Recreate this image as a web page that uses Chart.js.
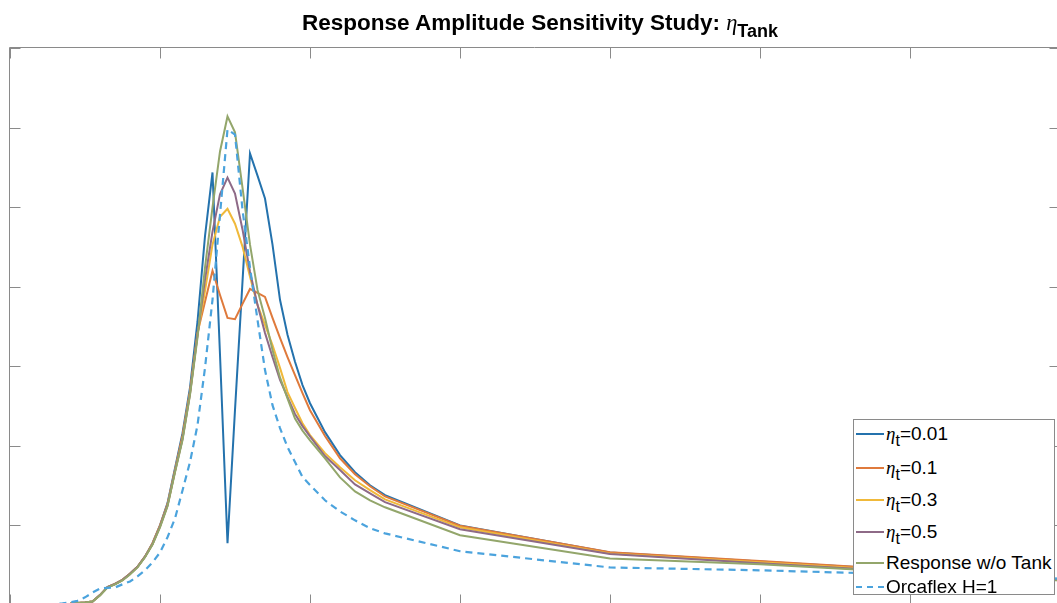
<!DOCTYPE html>
<html>
<head>
<meta charset="utf-8">
<script src="https://cdn.jsdelivr.net/npm/chart.js@4.4.1/dist/chart.umd.min.js"></script>
<style>
  html, body { margin: 0; padding: 0; background: #fff; overflow: hidden; width: 1057px; height: 603px; }
  #wrap { position: absolute; left: 0; top: 0; width: 1070px; height: 620px; }
  #title { position: absolute; left: 5px; top: 10px; width: 1070px; text-align: center;
           font-family: "Liberation Sans", Arial, sans-serif; font-size: 22.5px; line-height: 26px; color: #000; }
  #title b { font-weight: bold; }
  .eta { font-family: "Liberation Serif", "DejaVu Serif", serif; font-style: italic; }
  #title sub { font-weight: bold; font-size: 18px; vertical-align: -7px; line-height: 0; }
  #legend { position: absolute; left: 853px; top: 419px; width: 200px; height: 174px;
            border: 1px solid #8a8a8a; background: #fff;
            font-family: "Liberation Sans", Arial, sans-serif; font-size: 19px; color: #000; }
  .row { position: absolute; left: 0; height: 20px; line-height: 20px; white-space: nowrap; }
  .row .smp { position: absolute; left: 2px; width: 28px; height: 0; border-top: 2px solid; }
  .row .txt { position: absolute; left: 32px; top: 0; }
  .row sub { font-size: 16px; vertical-align: -6px; line-height: 0; }
</style>
</head>
<body>
<div id="wrap"><canvas id="rao" width="1070" height="620"></canvas></div>
<div id="title"><b>Response Amplitude Sensitivity Study: </b><span class="eta">η</span><sub>Tank</sub></div>
<div id="legend"></div>
<script>
// frequency points (axis tick labels are cropped out of the picture)
const freq = [0.05,0.06,0.07,0.08,0.09,0.10,0.11,0.12,0.13,0.14,0.15,0.16,0.17,0.18,0.19,0.20,
  0.21,0.22,0.23,0.24,0.25,0.26,0.27,0.28,0.29,0.30,0.31,0.32,0.33,0.34,0.35,0.36,0.37,0.38,0.39,0.40,
  0.42,0.44,0.46,0.48,0.50,0.60,0.80,1.00,1.20,1.40];

const eta001 = [0.001,0.002,0.003,0.004,0.006,0.008,0.011,0.031,0.056,0.066,0.079,0.098,0.120,0.152,
  0.194,0.250,0.320,0.430,0.540,0.683,0.890,1.159,1.359,0.786,0.194,0.613,1.016,1.419,1.349,1.277,
  1.132,0.959,0.849,0.764,0.691,0.634,0.543,0.471,0.417,0.376,0.345,0.250,0.165,0.137,0.109,0.080];

const eta01 = [0.001,0.002,0.003,0.004,0.006,0.008,0.011,0.031,0.056,0.066,0.079,0.098,0.120,0.152,
  0.194,0.250,0.317,0.424,0.532,0.671,0.855,0.953,1.050,0.974,0.902,0.898,0.946,0.993,0.981,0.968,
  0.902,0.839,0.779,0.722,0.666,0.612,0.531,0.461,0.411,0.373,0.341,0.249,0.166,0.138,0.110,0.081];

const eta03 = [0.001,0.002,0.003,0.004,0.006,0.008,0.011,0.031,0.056,0.066,0.079,0.098,0.120,0.152,
  0.191,0.247,0.313,0.420,0.524,0.666,0.849,0.987,1.132,1.220,1.245,1.198,1.126,1.031,0.943,0.880,
  0.817,0.745,0.669,0.619,0.571,0.534,0.477,0.433,0.392,0.361,0.332,0.244,0.162,0.134,0.106,0.080];

const eta05 = [0.001,0.002,0.003,0.004,0.006,0.008,0.011,0.031,0.056,0.066,0.079,0.098,0.120,0.152,
  0.191,0.247,0.313,0.420,0.521,0.663,0.849,1.022,1.173,1.290,1.343,1.293,1.180,1.047,0.943,0.855,
  0.779,0.707,0.653,0.600,0.562,0.530,0.468,0.424,0.379,0.351,0.323,0.238,0.160,0.131,0.104,0.079];

const noTank = [0.001,0.002,0.003,0.004,0.006,0.008,0.011,0.030,0.055,0.065,0.077,0.096,0.118,0.150,
  0.190,0.244,0.310,0.417,0.518,0.660,0.840,1.060,1.249,1.425,1.535,1.485,1.311,1.132,0.990,0.902,
  0.801,0.715,0.649,0.586,0.548,0.517,0.461,0.401,0.357,0.329,0.307,0.219,0.146,0.128,0.102,0.077];

const orcaflex = [0.002,0.003,0.005,0.008,0.013,0.024,0.039,0.052,0.054,0.055,0.065,0.074,0.090,0.109,
  0.134,0.165,0.213,0.272,0.360,0.449,0.565,0.745,0.959,1.226,1.494,1.478,1.242,1.060,0.896,0.738,
  0.628,0.556,0.496,0.449,0.402,0.377,0.329,0.294,0.266,0.241,0.225,0.169,0.118,0.109,0.096,0.083];

const xTicks = { min: 0, max: 1.4, step: 0.2 };
const yTicks = { min: 0, max: 1.75, step: 0.25 };

const series = [
  { label: 'η|t|=0.01', data: eta001, color: '#2472ad' },
  { label: 'η|t|=0.1', data: eta01, color: '#df7a3c' },
  { label: 'η|t|=0.3', data: eta03, color: '#f0b93a' },
  { label: 'η|t|=0.5', data: eta05, color: '#8e6a87' },
  { label: 'Response w/o Tank', data: noTank, color: '#93a66b' },
  { label: 'Orcaflex H=1', data: orcaflex, color: '#4ba3dd', dash: [7, 5] }
];

// box and inward tick marks, MATLAB style
const boxTicks = {
  id: 'boxTicks',
  beforeDatasetsDraw(chart) {
    const { ctx, chartArea: a, scales: { x, y } } = chart;
    const len = 10.5;
    ctx.save();
    ctx.strokeStyle = '#8a8a8a';
    ctx.lineWidth = 1;
    ctx.beginPath();
    x.ticks.forEach(t => {
      const px = Math.round(x.getPixelForValue(t.value)) + 0.5;
      ctx.moveTo(px, a.top); ctx.lineTo(px, a.top + len);
      ctx.moveTo(px, a.bottom); ctx.lineTo(px, a.bottom - len);
    });
    y.ticks.forEach(t => {
      const py = Math.round(y.getPixelForValue(t.value)) + 0.5;
      ctx.moveTo(a.left, py); ctx.lineTo(a.left + len, py);
      ctx.moveTo(a.right, py); ctx.lineTo(a.right - len, py);
    });
    ctx.rect(a.left - 0.5, a.top - 0.5, a.right - a.left, a.bottom - a.top);
    ctx.stroke();
    ctx.restore();
  }
};

const flat = scale => { if (scale.isHorizontal()) scale.height = 0; else scale.width = 0; };

new Chart(document.getElementById('rao').getContext('2d'), {
  type: 'line',
  data: {
    datasets: series.map((s, i) => ({
      label: s.label,
      data: freq.map((f, k) => ({ x: f, y: s.data[k] })),
      borderColor: s.color,
      borderWidth: s.dash ? 2.2 : 2,
      borderDash: s.dash || [],
      pointRadius: 0,
      tension: 0,
      fill: false,
      order: series.length - i
    }))
  },
  options: {
    responsive: false,
    animation: false,
    layout: { padding: { left: 10, top: 48, right: 10, bottom: 15 } },
    plugins: { legend: { display: false }, title: { display: false }, tooltip: { enabled: false } },
    scales: {
      x: { type: 'linear', min: xTicks.min, max: xTicks.max,
           ticks: { display: false, stepSize: xTicks.step },
           grid: { display: false, drawTicks: false }, border: { display: false }, afterFit: flat },
      y: { type: 'linear', min: yTicks.min, max: yTicks.max,
           ticks: { display: false, stepSize: yTicks.step },
           grid: { display: false, drawTicks: false }, border: { display: false }, afterFit: flat }
    }
  },
  plugins: [boxTicks]
});

// legend (HTML so the subscripts stay real text)
const rowTop = [4, 38, 70, 102, 133, 157];
const legend = document.getElementById('legend');
series.forEach((s, i) => {
  const row = document.createElement('div');
  row.className = 'row';
  row.style.top = rowTop[i] + 'px';
  const smp = document.createElement('div');
  smp.className = 'smp';
  smp.style.top = '9px';
  smp.style.borderTopColor = s.color;
  if (s.dash) smp.style.borderTopStyle = 'dashed';
  const txt = document.createElement('span');
  txt.className = 'txt';
  const parts = s.label.split('|');
  if (parts.length === 3) {
    const e = document.createElement('span'); e.className = 'eta'; e.textContent = parts[0];
    const sb = document.createElement('sub'); sb.textContent = parts[1];
    txt.append(e, sb, document.createTextNode(parts[2]));
  } else {
    txt.textContent = s.label;
  }
  row.append(smp, txt);
  legend.appendChild(row);
});
</script>
</body>
</html>
